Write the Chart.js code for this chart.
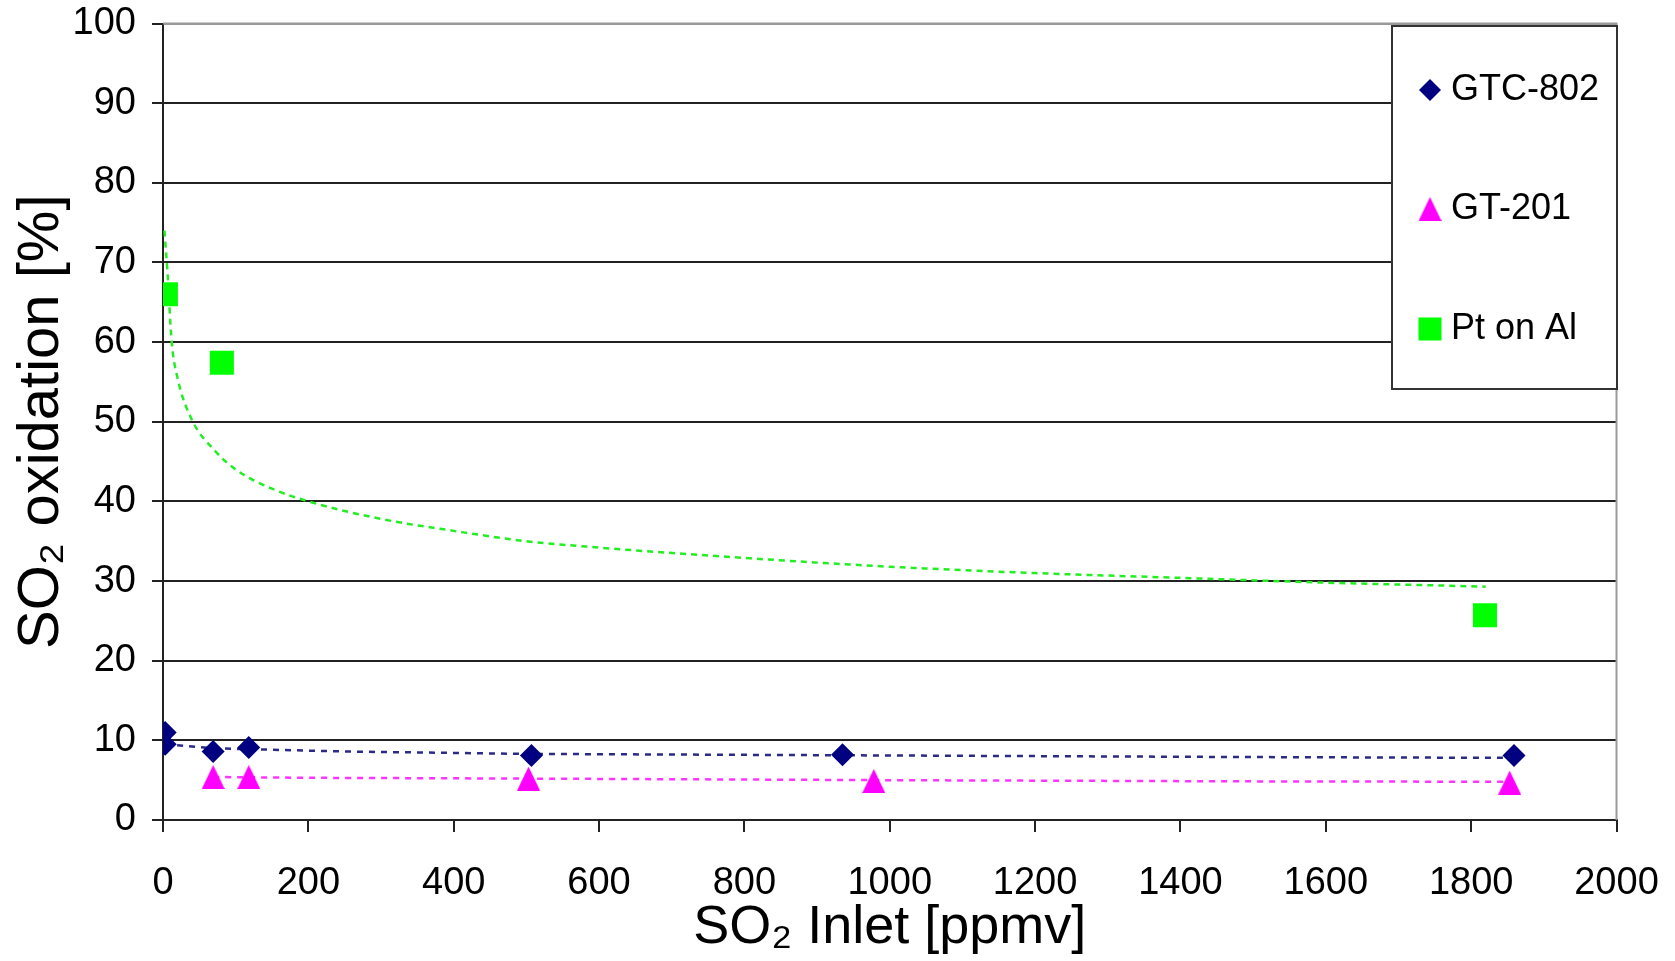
<!DOCTYPE html>
<html>
<head>
<meta charset="utf-8">
<script src="https://cdn.jsdelivr.net/npm/chart.js@4.4.0/dist/chart.umd.min.js"></script>
<style>
  html, body { margin: 0; padding: 0; background: #fff; }
  canvas { display: block; }
</style>
</head>
<body>
<canvas id="chart" width="1675" height="961"></canvas>
<script>
// values
const gtcX = [3, 3, 69, 118, 507, 935, 1859];
const gtcY = [11.0, 9.5, 8.6, 9.1, 8.1, 8.2, 8.1];
const gtX = [69, 118, 503, 978, 1853];
const gtY = [5.4, 5.4, 5.2, 4.9, 4.7];
const ptX = [4, 81, 1819];
const ptY = [66.0, 57.4, 25.7];

// dashed trend lines
const gtcTrendX = [3, 70, 250, 500, 1000, 1500, 1859];
const gtcTrendY = [9.5, 9.0, 8.6, 8.3, 8.1, 7.9, 7.8];
const gtTrendX = [69, 200, 500, 1000, 1500, 1853];
const gtTrendY = [5.4, 5.3, 5.2, 5.0, 4.85, 4.8];
const ptTrendX = [2, 6, 12, 20, 40, 70, 100, 150, 200, 300, 400, 500, 600, 800, 1000, 1200, 1400, 1600, 1820];
const ptTrendY = [74, 69, 60, 55.5, 50.2, 46.5, 44, 41.6, 40, 37.8, 36.3, 35, 34.2, 32.9, 31.8, 31, 30.4, 29.8, 29.3];

const seriesNames = ['GTC-802', 'GT-201', 'Pt on Al'];
const xTicks = [0, 200, 400, 600, 800, 1000, 1200, 1400, 1600, 1800, 2000];

const FONT = "'Liberation Sans', Arial, sans-serif";

function pts(xs, ys) {
    return xs.map((x, i) => ({ x: x, y: ys[i] }));
}

// excel style triangle, centred on its box
function triangleMarker(w, h, color) {
    const c = document.createElement('canvas');
    c.width = w;
    c.height = h;
    const g = c.getContext('2d');
    g.fillStyle = color;
    g.beginPath();
    g.moveTo(w / 2, 0);
    g.lineTo(w, h);
    g.lineTo(0, h);
    g.closePath();
    g.fill();
    return c;
}
const triangle = triangleMarker(23, 24, '#FF00FF');

const frame = {
    id: 'frame',
    afterDraw(chart) {
        const ctx = chart.ctx;
        const a = chart.chartArea;
        ctx.save();
        ctx.strokeStyle = '#999';
        ctx.lineWidth = 2;
        ctx.beginPath();
        ctx.moveTo(a.left, a.top);
        ctx.lineTo(a.right, a.top);
        ctx.lineTo(a.right, a.bottom);
        ctx.stroke();

        // legend box
        const bx = 1392, by = 26, bw = 225, bh = 363;
        ctx.fillStyle = '#fff';
        ctx.fillRect(bx, by, bw, bh);
        ctx.strokeStyle = '#333';
        ctx.lineWidth = 2;
        ctx.strokeRect(bx, by, bw, bh);

        const mx = 1430, tx = 1451;
        const rows = [90, 209, 329];
        // diamond
        ctx.fillStyle = '#000080';
        ctx.beginPath();
        ctx.moveTo(mx - 11, rows[0]);
        ctx.lineTo(mx, rows[0] - 11);
        ctx.lineTo(mx + 11, rows[0]);
        ctx.lineTo(mx, rows[0] + 11);
        ctx.closePath();
        ctx.fill();
        // triangle
        ctx.drawImage(triangle, mx - triangle.width / 2, rows[1] - triangle.height / 2);
        // square
        ctx.fillStyle = '#00FF00';
        ctx.fillRect(mx - 11.5, rows[2] - 11.5, 23, 23);

        ctx.fillStyle = '#000';
        ctx.font = '36px ' + FONT;
        ctx.textAlign = 'left';
        ctx.textBaseline = 'middle';
        seriesNames.forEach((name, i) => ctx.fillText(name, tx, rows[i]));
        ctx.restore();
    }
};

const ctx = document.getElementById('chart').getContext('2d');
const chart = new Chart(ctx, {
    type: 'scatter',
    data: {
        datasets: [
            {
                label: seriesNames[0],
                data: pts(gtcX, gtcY),
                pointStyle: 'rectRot',
                pointRadius: 11.5,
                backgroundColor: '#000080',
                borderColor: '#000080',
                borderWidth: 0
            },
            {
                label: seriesNames[1],
                data: pts(gtX, gtY),
                pointStyle: triangle,
                backgroundColor: '#FF00FF',
                borderColor: '#FF00FF'
            },
            {
                label: seriesNames[2],
                data: pts(ptX, ptY),
                pointStyle: 'rect',
                pointRadius: 17,
                backgroundColor: '#00FF00',
                borderColor: '#00FF00',
                borderWidth: 0
            },
            {
                label: 'GTC-802 trend',
                data: pts(gtcTrendX, gtcTrendY),
                showLine: true,
                pointRadius: 0,
                borderColor: '#2a2a8a',
                borderWidth: 2.5,
                borderDash: [6, 6]
            },
            {
                label: 'GT-201 trend',
                data: pts(gtTrendX, gtTrendY),
                showLine: true,
                pointRadius: 0,
                borderColor: '#FF33FF',
                borderWidth: 2.5,
                borderDash: [6, 6]
            },
            {
                label: 'Pt on Al trend',
                data: pts(ptTrendX, ptTrendY),
                showLine: true,
                pointRadius: 0,
                borderColor: '#22EE22',
                borderWidth: 2.5,
                borderDash: [6, 5],
                cubicInterpolationMode: 'monotone'
            }
        ]
    },
    options: {
        responsive: false,
        animation: false,
        events: [],
        layout: {
            padding: { top: 23.5, right: 58.5, left: 0, bottom: 0 }
        },
        plugins: {
            legend: { display: false },
            tooltip: { enabled: false }
        },
        scales: {
            x: {
                type: 'linear',
                min: 0,
                max: 2000,
                afterBuildTicks: function(scale) {
                    scale.ticks = xTicks.map(v => ({ value: v }));
                },
                ticks: {
                    color: '#000',
                    font: { size: 38, family: FONT, lineHeight: 1 },
                    padding: 33,
                    maxRotation: 0,
                    autoSkip: false,
                    callback: function(v) { return String(v); }
                },
                grid: {
                    drawOnChartArea: false,
                    drawTicks: true,
                    tickLength: 12,
                    color: '#222',
                    lineWidth: 2
                },
                border: { display: true, color: '#222', width: 2 },
                title: {
                    display: true,
                    text: 'SO₂ Inlet [ppmv]',
                    color: '#000',
                    font: { size: 54, family: FONT, lineHeight: 1 },
                    padding: { top: 0, bottom: 6 }
                },
                afterFit: function(scale) {
                    scale.height = 141;
                    scale.paddingLeft = 0;
                    scale.paddingRight = 0;
                }
            },
            y: {
                min: 0,
                max: 100,
                ticks: {
                    stepSize: 10,
                    color: '#000',
                    font: { size: 38, family: FONT, lineHeight: 1 },
                    padding: 16
                },
                grid: {
                    color: c => (c.tick && c.tick.value === 100) ? '#999' : '#222',
                    tickColor: '#222',
                    lineWidth: 2,
                    tickLength: 11
                },
                border: { display: true, color: '#222', width: 2 },
                title: {
                    display: true,
                    text: 'SO₂ oxidation [%]',
                    color: '#000',
                    font: { size: 58, family: FONT, lineHeight: 1 },
                    padding: { top: 13, bottom: 0 }
                },
                afterFit: function(scale) {
                    scale.width = 163;
                    scale.paddingTop = 0;
                    scale.paddingBottom = 0;
                }
            }
        }
    },
    plugins: [frame]
});
</script>
</body>
</html>
